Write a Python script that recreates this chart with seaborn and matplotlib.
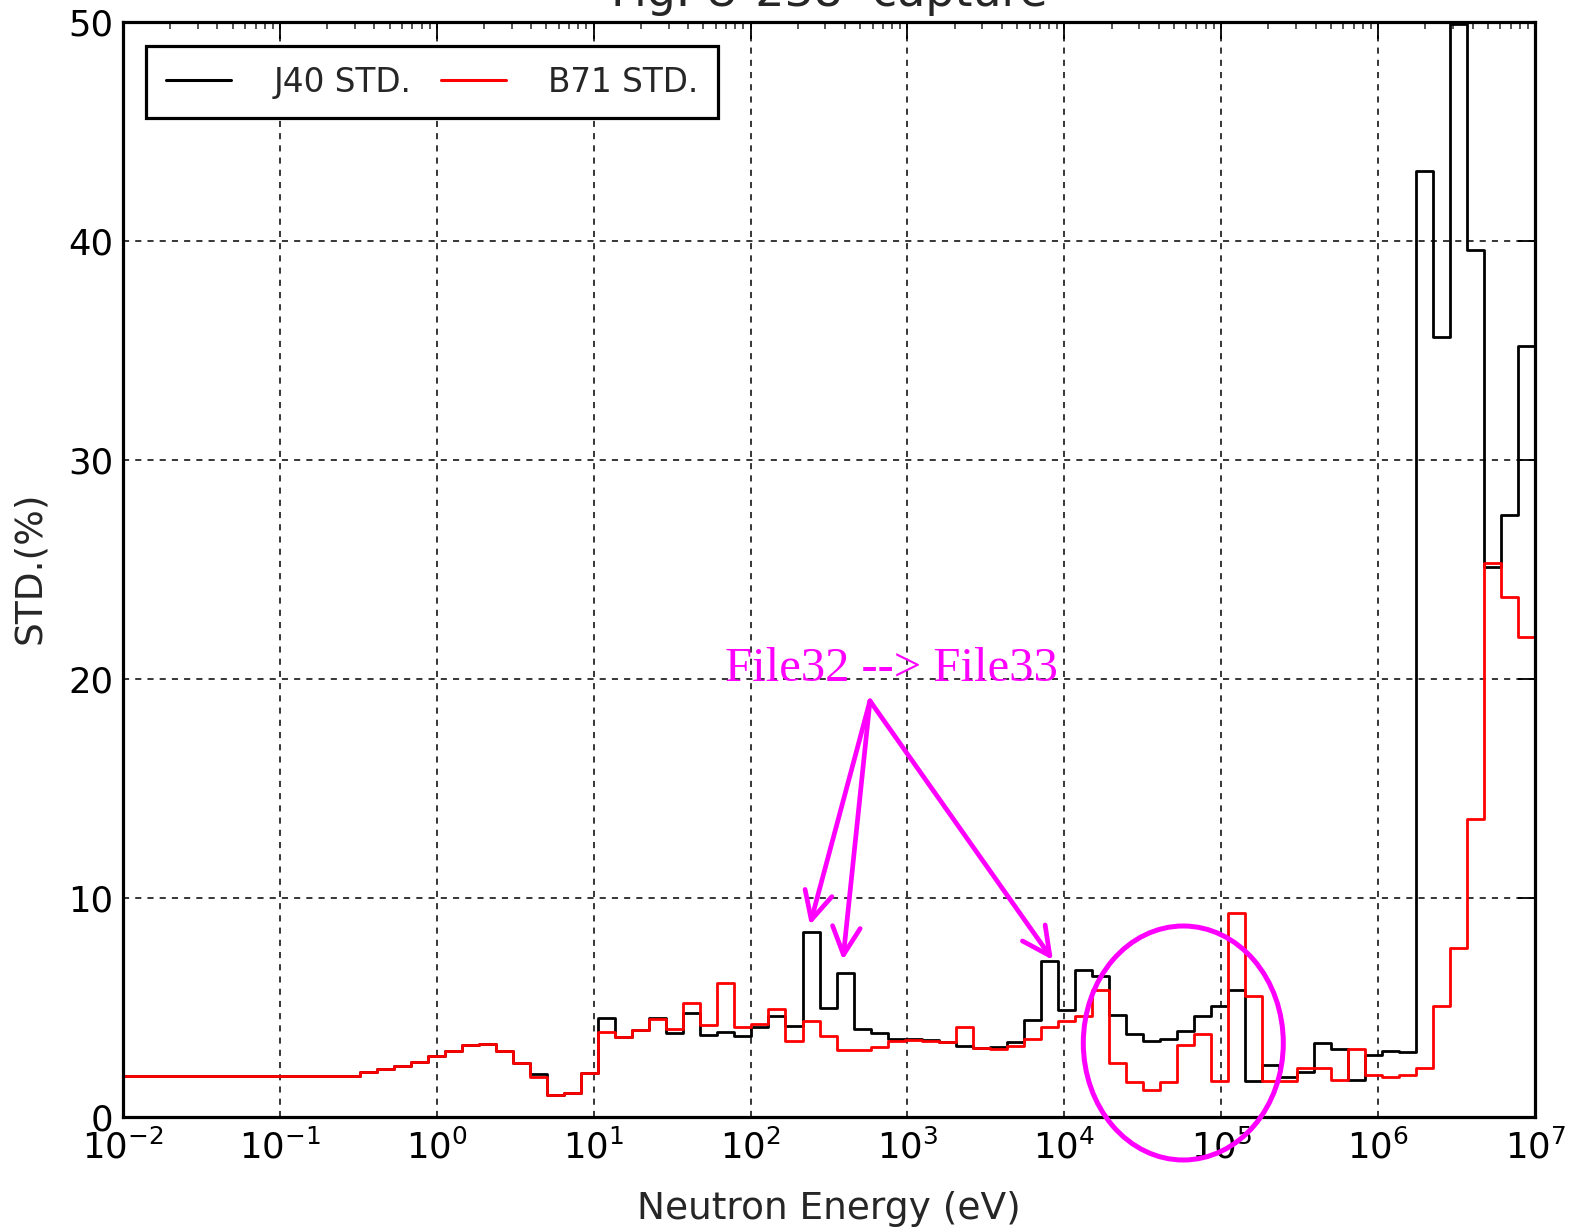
import numpy as np
import pandas as pd
import matplotlib
matplotlib.use("Agg")
import matplotlib.pyplot as plt
import seaborn as sns
from matplotlib.patches import Ellipse
from matplotlib.ticker import LogLocator, NullFormatter, MultipleLocator

# ---- data (70-group structure, ascending energy, eV) ----
group_edges = [1e-5, 0.3224, 0.4140, 0.5316, 0.6826, 0.8764, 1.125, 1.445, 1.855, 2.382,
               3.059, 3.928, 5.043, 6.476, 8.315, 10.68, 13.71, 17.60, 22.60, 29.02,
               37.27, 47.85, 61.44, 78.89, 101.3, 130.1, 167.0, 214.5, 275.4, 353.6,
               454.0, 582.9, 748.5, 961.1, 1234, 1585, 2035, 2613, 3355, 4307,
               5531, 7102, 9119, 1.171e4, 1.503e4, 1.930e4, 2.479e4, 3.183e4, 4.087e4, 5.248e4,
               6.738e4, 8.652e4, 1.111e5, 1.426e5, 1.832e5, 2.352e5, 3.020e5, 3.877e5, 4.979e5, 6.393e5,
               8.209e5, 1.054e6, 1.353e6, 1.738e6, 2.231e6, 2.865e6, 3.679e6, 4.724e6, 6.065e6, 7.788e6,
               1.0e7]

j40_std = [1.85, 2.04, 2.18, 2.33, 2.53, 2.79, 3.03, 3.29, 3.32, 3.03,
           2.48, 1.98, 1.00, 1.10, 2.00, 4.51, 3.67, 3.97, 4.54, 3.85,
           4.73, 3.74, 3.90, 3.70, 4.12, 4.61, 4.17, 8.43, 4.96, 6.56,
           4.03, 3.85, 3.56, 3.55, 3.50, 3.44, 3.24, 3.14, 3.20, 3.41,
           4.43, 7.14, 4.89, 6.72, 6.44, 4.66, 3.79, 3.49, 3.55, 3.94,
           4.61, 5.07, 5.80, 1.64, 2.37, 1.84, 2.04, 3.37, 3.09, 1.69,
           2.81, 3.00, 2.98, 43.2, 35.6, 49.9, 39.6, 25.1, 27.5, 35.2]

b71_std = [1.85, 2.04, 2.18, 2.33, 2.53, 2.79, 3.03, 3.29, 3.32, 3.03,
           2.48, 1.84, 1.00, 1.10, 2.00, 3.90, 3.67, 3.97, 4.46, 4.00,
           5.19, 4.20, 6.10, 4.12, 4.25, 4.92, 3.49, 4.40, 3.71, 3.06,
           3.04, 3.18, 3.49, 3.50, 3.45, 3.44, 4.09, 3.14, 3.10, 3.24,
           3.55, 4.09, 4.40, 4.60, 5.80, 2.45, 1.58, 1.23, 1.61, 3.29,
           3.79, 1.64, 9.33, 5.53, 1.64, 1.64, 2.24, 2.22, 1.69, 3.11,
           1.92, 1.84, 1.92, 2.26, 5.09, 7.70, 13.6, 25.3, 23.75, 21.9]

series_labels = ["J40 STD.", "B71 STD."]
annot_text = "File32 --> File33"
arrow_tail = (577.0, 19.0)
arrow_heads = [(239.0, 8.77), (388.0, 7.17), (8450.0, 7.17)]

# ---- style ----
sns.set_style("white")
plt.rcParams["font.family"] = ["DejaVu Sans"]
plt.rcParams["mathtext.fontset"] = "dejavusans"

W, H = 1569, 1232
fig = plt.figure(figsize=(W / 100, H / 100), dpi=100)
ax = fig.add_axes([123 / W, 1 - 1117 / H, (1535 - 123) / W, (1117 - 22) / H])


def step_frame(edges, vals, name):
    return pd.DataFrame({"E": edges, "std": list(vals) + [vals[-1]], "series": name})


df_j = step_frame(group_edges, j40_std, series_labels[0])
df_b = step_frame(group_edges, b71_std, series_labels[1])

sns.lineplot(data=df_j, x="E", y="std", ax=ax, color="black", lw=2.0,
             drawstyle="steps-post", label=series_labels[0], sort=True, estimator=None)
sns.lineplot(data=df_b, x="E", y="std", ax=ax, color="red", lw=2.0,
             drawstyle="steps-post", label=series_labels[1], sort=True, estimator=None)

ax.set_xscale("log")
ax.set_xlim(1e-2, 1e7)
ax.set_ylim(0, 50)
ax.xaxis.set_major_locator(LogLocator(base=10, numticks=20))
ax.xaxis.set_minor_locator(LogLocator(base=10, subs=np.arange(2, 10), numticks=20))
ax.xaxis.set_minor_formatter(NullFormatter())
ax.yaxis.set_major_locator(MultipleLocator(10))

ax.grid(True, which="major", color="black", linestyle=(0, (4, 4)), linewidth=1.1)
for s in ax.spines.values():
    s.set_linewidth(2.3)
    s.set_color("black")
    s.set_visible(True)
ax.tick_params(which="major", direction="in", length=12, width=1.3, top=True, right=True,
               labelsize=25.5, pad=9, colors="black")
ax.tick_params(which="minor", direction="in", length=5, width=1.1, top=True, right=False)
ax.tick_params(axis="y", which="minor", left=False, right=False)
ax.tick_params(axis="y", which="major", pad=7)

ax.set_xlabel("Neutron Energy (eV)", fontsize=27)
ax.set_ylabel("STD.(%)", fontsize=27)
ax.xaxis.set_label_coords(0.5, -0.068)
ax.yaxis.set_label_coords(-0.053, 0.502)

fig.text(0.5 * (123 + 1535) / W, 1 - 6 / H, "Fig. U-238  capture", ha="center",
         va="baseline", fontsize=33)

leg = ax.legend(loc="upper left", bbox_to_anchor=((146 - 123) / 1412, (1117 - 46) / 1095),
                borderaxespad=0, ncol=2, fontsize=23.5, frameon=True, fancybox=False,
                handlelength=2.0, handletextpad=1.3, columnspacing=0.9,
                borderpad=0.6, framealpha=1)
leg.get_frame().set_edgecolor("black")
leg.get_frame().set_linewidth(2.3)
for line in leg.get_lines():
    line.set_linewidth(2.2)

# annotations
ax.text(796, 19.9, annot_text, color="magenta", fontsize=35, ha="center", va="baseline",
        family="Liberation Serif")
for head in arrow_heads:
    ax.annotate("", xy=head, xytext=arrow_tail,
                arrowprops=dict(arrowstyle="->,head_length=1.0,head_width=0.5",
                                color="magenta", lw=3.4, shrinkA=0, shrinkB=0,
                                mutation_scale=20))

ell = Ellipse(((1183.3 - 123) / 1412, (1117 - 1043) / 1095), 200 / 1412, 234 / 1095,
              transform=ax.transAxes, fill=False, edgecolor="magenta", lw=3.6, clip_on=False,
              zorder=5)
ax.add_patch(ell)

fig.savefig("out.png", dpi=100)
